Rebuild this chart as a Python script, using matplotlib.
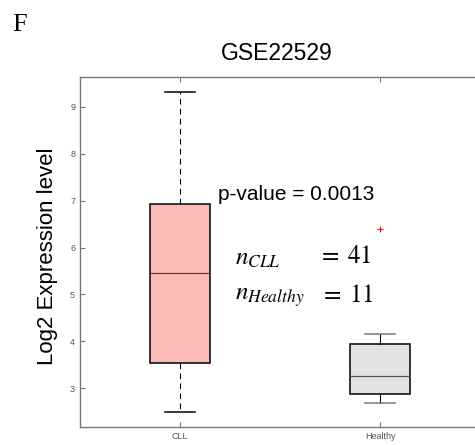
import matplotlib
matplotlib.use('Agg')
import matplotlib.pyplot as plt

plt.rcParams['font.family'] = ['Liberation Sans', 'DejaVu Sans']
plt.rcParams['mathtext.fontset'] = 'stix'

# box statistics
groups = ['CLL', 'Healthy']
medians = [5.45, 3.25]
q1 = [3.53, 2.87]
q3 = [6.93, 3.94]
whis_lo = [2.50, 2.68]
whis_hi = [9.31, 4.15]
fliers = [[], [6.39]]
n_counts = [41, 11]
p_value = 0.0013

stats = []
for i, g in enumerate(groups):
    stats.append(dict(label=g, med=medians[i], q1=q1[i], q3=q3[i],
                      whislo=whis_lo[i], whishi=whis_hi[i], fliers=fliers[i]))

fig = plt.figure(figsize=(4.75, 4.45), dpi=100)
ax = fig.add_axes([80 / 475, 18 / 445, 400 / 475, 350 / 445])

box_colors = ['#fbbdb8', '#e3e3e3']
med_colors = ['#7a3030', '#555555']
cap_colors = ['black', '#777777']
whisk_styles = [(0, (5, 4)), '-']

for i in range(len(groups)):
    ax.bxp([stats[i]], positions=[i + 1], widths=0.3, patch_artist=True,
           showfliers=True,
           boxprops=dict(facecolor=box_colors[i], edgecolor='black', linewidth=1.1),
           medianprops=dict(color=med_colors[i], linewidth=0.9),
           whiskerprops=dict(color='black', linewidth=0.8, linestyle=whisk_styles[i]),
           capprops=dict(color=cap_colors[i], linewidth=1.1),
           capwidths=0.15,
           flierprops=dict(marker='+', markeredgecolor='red', markersize=5,
                           markeredgewidth=0.8, linestyle='none'))

ax.set_xlim(0.5, 2.5)
ax.set_ylim(2.17, 9.64)
ax.set_yticks([3, 4, 5, 6, 7, 8, 9])
ax.set_xticks([1, 2])
ax.set_xticklabels(groups)
ax.tick_params(direction='in', length=3.5, width=0.8, colors='#777777',
               labelsize=6.5, labelcolor='#555555', top=True, right=True)
for s in ax.spines.values():
    s.set_color('#777777')
    s.set_linewidth(1.0)

fig.text(218 / 475, 1 - 194 / 445, f'p-value = {p_value}', fontsize=15,
         va='center', ha='left')

fig.text(235 / 475, 1 - 258 / 445, r'$n_{CLL}$', fontsize=18, va='center', ha='left')
fig.text(318 / 475, 1 - 256 / 445, rf'$=\;{n_counts[0]}$', fontsize=18, va='center', ha='left')
fig.text(235 / 475, 1 - 297 / 445, r'$n_{Healthy}$', fontsize=18, va='center', ha='left')
fig.text(320 / 475, 1 - 295 / 445, rf'$=\;{n_counts[1]}$', fontsize=18, va='center', ha='left')

fig.text(277 / 475, 1 - 53 / 445, 'GSE22529', fontsize=16.5, ha='center', va='center')
fig.text(48 / 475, 1 - 256 / 445, 'Log2 Expression level', fontsize=16,
         rotation=90, ha='center', va='center')
fig.text(12 / 475, 1 - 25 / 445, 'F', fontsize=19, family='Liberation Serif',
         ha='left', va='center')

fig.savefig('out.png', dpi=100)
